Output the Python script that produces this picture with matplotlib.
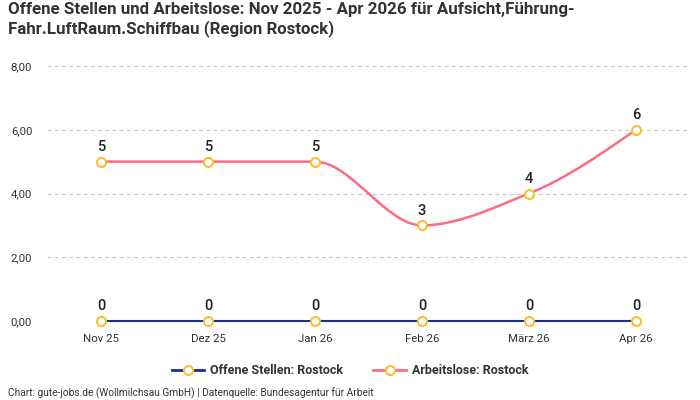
import numpy as np
import matplotlib
matplotlib.use("Agg")
import matplotlib.pyplot as plt
from matplotlib.lines import Line2D

categories = ["Nov 25", "Dez 25", "Jan 26", "Feb 26", "März 26", "Apr 26"]
offene_stellen = [0, 0, 0, 0, 0, 0]
arbeitslose = [5, 5, 5, 3, 4, 6]
y_ticks = [0, 2, 4, 6, 8]
y_tick_labels = ["0,00", "2,00", "4,00", "6,00", "8,00"]

title = "Offene Stellen und Arbeitslose: Nov 2025 - Apr 2026 für Aufsicht,Führung-\nFahr.LuftRaum.Schiffbau (Region Rostock)"
footer = "Chart: gute-jobs.de (Wollmilchsau GmbH) | Datenquelle: Bundesagentur für Arbeit"

BLUE = "#1a2f91"
PINK = "#ff6b81"
MARK = "#fbc02d"

plt.rcParams['font.family'] = ['Roboto', 'DejaVu Sans']


def monotone(xs, ys, n=40):
    xs = np.asarray(xs, float); ys = np.asarray(ys, float)
    h = np.diff(xs); d = np.diff(ys) / h
    m = np.zeros_like(ys)
    for i in range(1, len(ys) - 1):
        if d[i - 1] * d[i] <= 0:
            m[i] = 0
        else:
            m[i] = 2 / (1 / d[i - 1] + 1 / d[i])
    m[0] = (3 * d[0] - m[1]) / 2
    m[-1] = (3 * d[-1] - m[-2]) / 2
    X, Y = [], []
    for i in range(len(h)):
        t = np.linspace(0, 1, n)
        h00 = 2 * t**3 - 3 * t**2 + 1
        h10 = t**3 - 2 * t**2 + t
        h01 = -2 * t**3 + 3 * t**2
        h11 = t**3 - t**2
        X.append(xs[i] + t * h[i])
        Y.append(h00 * ys[i] + h10 * h[i] * m[i] + h01 * ys[i + 1] + h11 * h[i] * m[i + 1])
    return np.concatenate(X), np.concatenate(Y)


fig = plt.figure(figsize=(7, 4), dpi=100)
ax = fig.add_axes([47.5 / 700, 1 - 321 / 400, 642 / 700, 255 / 400])
x = np.arange(len(categories))

MS, MEW = 6.5, 1.5
for vals, col, lw in [(arbeitslose, PINK, 1.8), (offene_stellen, BLUE, 1.5)]:
    sx, sy = monotone(x, vals)
    ax.plot(sx, sy, color=col, lw=lw, clip_on=False, zorder=3)
    ax.plot(x, vals, ls="none", marker="o", ms=MS, mfc="white", mec=MARK, mew=MEW,
            clip_on=False, zorder=4)
    for xi, v in zip(x, vals):
        ax.annotate(str(v), (xi, v), xytext=(0, 10.5), textcoords="offset points",
                    ha="center", va="center", fontsize=10.5, color="#222222", fontweight="medium")

ax.set_xlim(-0.5, len(categories) - 0.5)
ax.set_ylim(0, 8)
ax.set_yticks(y_ticks)
ax.set_yticklabels(y_tick_labels)
ax.set_xticks(x)
ax.set_xticklabels(categories)
ax.tick_params(axis="both", length=0, labelsize=8.2, colors="#333333")
ax.tick_params(axis="y", pad=11)
ax.tick_params(axis="x", pad=9)
ax.grid(axis="y", color="#c8c8c8", ls=(0, (3.5, 3)), lw=0.8)
ax.set_axisbelow(True)
for s in ax.spines.values():
    s.set_visible(False)

fig.text(8 / 700, 1 - 2 / 400, title, ha="left", va="top", fontsize=12.2,
         fontweight="bold", color="#333333", linespacing=1.2)
fig.text(8 / 700, 1 - 393 / 400, footer, ha="left", va="center", fontsize=7.3, color="#333333")

handles = [Line2D([0], [0], color=BLUE, lw=2, marker="o", ms=MS, mfc="white", mec=MARK, mew=MEW),
           Line2D([0], [0], color=PINK, lw=2, marker="o", ms=MS, mfc="white", mec=MARK, mew=MEW)]
fig.legend(handles, ["Offene Stellen: Rostock", "Arbeitslose: Rostock"], loc="center",
           bbox_to_anchor=(0.5, 1 - 371 / 400), ncol=2, frameon=False,
           handlelength=2.6, handletextpad=0.5, columnspacing=2.4,
           prop={"weight": "bold", "size": 9})
for t in fig.legends[0].get_texts():
    t.set_color("#333333")

fig.savefig("out.png", dpi=100)
